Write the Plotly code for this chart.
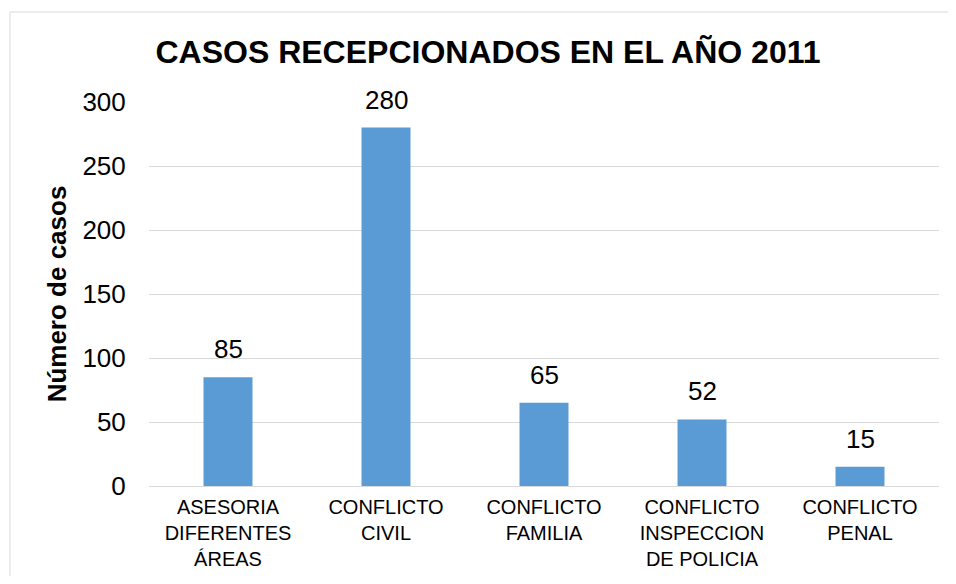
import plotly.graph_objects as go

categories = ["ASESORIA<br>DIFERENTES<br>ÁREAS", "CONFLICTO<br>CIVIL", "CONFLICTO<br>FAMILIA",
              "CONFLICTO<br>INSPECCION<br>DE POLICIA", "CONFLICTO<br>PENAL"]
values = [85, 280, 65, 52, 15]
y_ticks = [0, 50, 100, 150, 200, 250, 300]

FONT = "Arial, Liberation Sans, sans-serif"

fig = go.Figure(go.Bar(
    x=categories, y=values,
    marker=dict(color="#5B9BD5", line=dict(width=0)),
))

# page is offset by the body margin of 8px; keep the figure inside the viewport
OFF = 8
W, H = 940, 568
L, T = 149 - OFF, 102 - OFF
R = W - (939 - OFF)
B = H - (486 - OFF)
pw, ph = W - L - R, H - T - B

def px_x(x):
    return (x - OFF - L) / pw

def px_y(y):
    return (H - B - (y - OFF)) / ph

annotations = [dict(x=c, y=v, xref="x", yref="y", text=str(v), showarrow=False,
                    yanchor="bottom", yshift=11,
                    font=dict(family=FONT, size=26, color="#000000"))
               for c, v in zip(categories, values)]

fig.update_layout(
    width=W, height=H,
    margin=dict(l=L, r=R, t=T, b=B, autoexpand=False),
    paper_bgcolor="white", plot_bgcolor="white",
    bargap=0.69,
    showlegend=False,
    annotations=annotations,
    title=dict(text="<b>CASOS RECEPCIONADOS EN EL AÑO 2011</b>",
               x=(488 - OFF) / W, xanchor="center", y=1 - (52 - OFF) / H, yanchor="middle",
               font=dict(family=FONT, size=32, color="#000000")),
    xaxis=dict(showgrid=False, showline=False, ticks="outside", ticklen=3,
               tickcolor="rgba(0,0,0,0)", automargin=False,
               tickfont=dict(family=FONT, size=20, color="#000000")),
    yaxis=dict(range=[0, 300], tickvals=y_ticks, showgrid=True, gridcolor="#d9d9d9",
               gridwidth=1, zeroline=True, zerolinecolor="#d9d9d9", zerolinewidth=1,
               showline=False, ticks="outside", ticklen=17, tickcolor="rgba(0,0,0,0)",
               automargin=False,
               tickfont=dict(family=FONT, size=26, color="#000000"),
               title=dict(text="<b>Número de casos</b>", standoff=8,
                          font=dict(family=FONT, size=26, color="#000000"))),
    shapes=[dict(type="rect", xref="paper", yref="paper",
                 x0=px_x(10), x1=px_x(990), y0=px_y(12), y1=px_y(620),
                 line=dict(color="#d9d9d9", width=1), fillcolor="rgba(0,0,0,0)",
                 layer="below")],
)

fig.write_html("out.html")
